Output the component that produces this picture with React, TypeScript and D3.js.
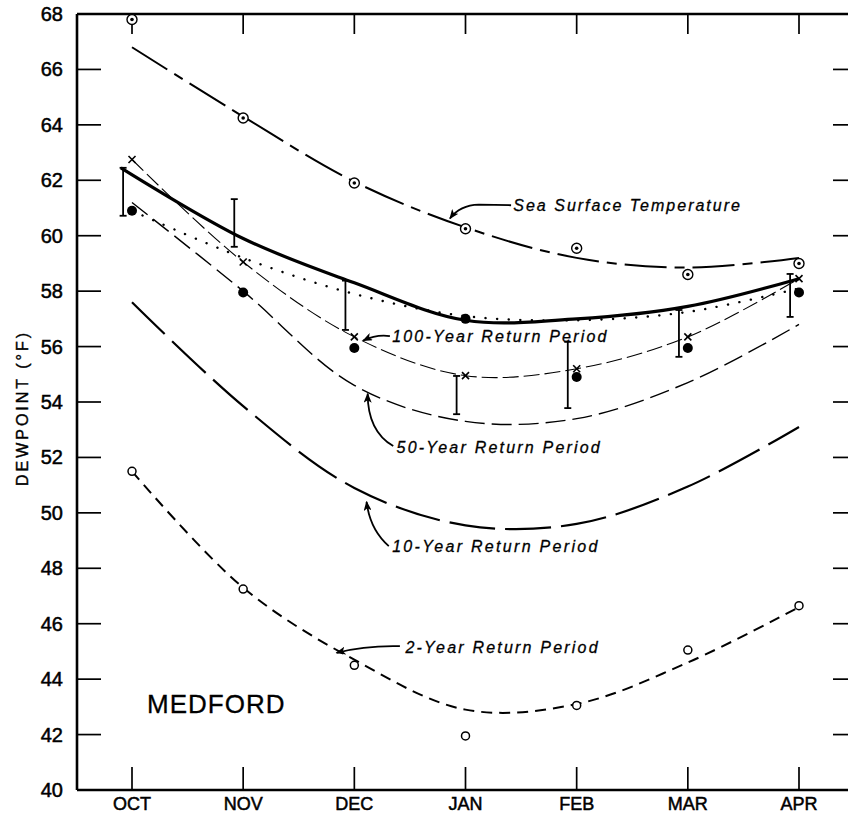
import React from "react";
import * as d3 from "d3";

// ---------- data ----------
const months = ["OCT", "NOV", "DEC", "JAN", "FEB", "MAR", "APR"];
const yTicks = [40, 42, 44, 46, 48, 50, 52, 54, 56, 58, 60, 62, 64, 66, 68];

// Sea surface temperature (plotted points and fitted curve)
const sstPoints = [67.8, 64.25, 61.9, 60.25, 59.55, 58.6, 59.0];
const sstCurve = [66.8, 64.3, 61.95, 60.3, 59.2, 58.85, 59.2];

// Heavy solid curve (month index positions and values)
const solidIdx = [-0.1, 1, 2, 3, 4, 5, 6];
const solidCurve = [62.45, 59.9, 58.3, 56.95, 57.0, 57.45, 58.45];

// Dotted curve
const dottedCurve = [60.9, 59.2, 57.9, 57.1, 56.95, 57.25, 58.1];

// 100-year return period (x marks, joined by thin dashed curve)
const rp100Marks = [62.75, 59.05, 56.35, 54.95, 55.2, 56.35, 58.45];

// filled dots
const filledDots = [60.9, 57.95, 55.95, 57.0, 54.9, 55.95, 57.95];

// range bars
const barLow = [60.72, 59.6, 56.6, 53.56, 53.78, 55.63, 57.07];
const barHigh = [62.45, 61.32, 58.38, 54.94, 56.17, 57.32, 58.62];

// return period curves
const rp50Curve = [61.2, 58.0, 54.6, 53.3, 53.4, 54.7, 56.8];
const rp10Curve = [57.6, 53.85, 50.9, 49.55, 49.6, 50.95, 53.1];
const rp2Curve = [51.5, 47.3, 44.7, 42.9, 43.1, 44.6, 46.6];
const rp2Points = [51.5, 47.25, 44.5, 41.95, 43.05, 45.05, 46.65];

// annotation labels
const labels = [
  "Sea Surface Temperature",
  "100-Year Return Period",
  "50-Year Return Period",
  "10-Year Return Period",
  "2-Year Return Period",
];

// ---------- layout ----------
const W = 848;
const H = 821;
const L = 77;
const R = 857;
const T = 14;
const B = 790;
const BAR_SHIFT = -0.08;

const x = d3.scaleLinear().domain([0, 6]).range([132, 799]);
const y = d3.scaleLinear().domain([40, 68]).range([B, T]);

const curve = d3.curveCatmullRom.alpha(0.5);
const lineByIndex = d3
  .line<number>()
  .x((_, i) => x(i))
  .y((d) => y(d))
  .curve(curve);
const lineXY = d3
  .line<[number, number]>()
  .x((d) => x(d[0]))
  .y((d) => y(d[1]))
  .curve(curve);

const FONT = "'Liberation Sans', Arial, Helvetica, sans-serif";

// leader arrow: tail, control, tip given in (month index, value)
function leader(pts: [number, number][]) {
  const p = pts.map(([i, v]) => [x(i), y(v)]);
  if (p.length === 3) {
    return `M${p[0][0]},${p[0][1]} Q${p[1][0]},${p[1][1]} ${p[2][0]},${p[2][1]}`;
  }
  return `M${p[0][0]},${p[0][1]} L${p[1][0]},${p[1][1]} Q${p[2][0]},${p[2][1]} ${p[3][0]},${p[3][1]}`;
}

const annotations: { text: string; at: [number, number]; arrow: [number, number][]; spacing: number }[] = [
  { text: labels[0], at: [3.43, 60.89], arrow: [[3.41, 61.1], [3.12, 61.12], [2.95, 61.1], [2.86, 60.62]], spacing: 2.0 },
  { text: labels[1], at: [2.34, 56.16], arrow: [[2.32, 56.38], [2.2, 56.45], [2.08, 56.22]], spacing: 2.2 },
  { text: labels[2], at: [2.38, 52.16], arrow: [[2.35, 52.41], [2.12, 52.95], [2.12, 54.3]], spacing: 2.2 },
  { text: labels[3], at: [2.34, 48.6], arrow: [[2.31, 48.8], [2.14, 49.4], [2.11, 50.4]], spacing: 2.3 },
  { text: labels[4], at: [2.46, 44.94], arrow: [[2.41, 45.19], [2.1, 45.22], [1.84, 44.95]], spacing: 2.2 },
];

export default function App() {
  const sidesTicks = yTicks.filter((t) => t > 40 && t < 68);
  return (
    <svg
      width={W}
      height={H}
      viewBox={`0 0 ${W} ${H}`}
      style={{ position: "absolute", left: 0, top: 0, background: "#fff" }}
    >
      <defs>
        <marker id="arrow" viewBox="0 0 10 8" refX="9" refY="4" markerWidth="10" markerHeight="8" orient="auto" markerUnits="userSpaceOnUse">
          <path d="M0,0 L10,4 L0,8 L2.5,4 z" fill="#000" />
        </marker>
      </defs>
      <rect x={0} y={0} width={W} height={H} fill="#fff" />

      {/* frame */}
      <g stroke="#000" fill="none">
        <line x1={L} y1={T} x2={L} y2={B} strokeWidth={2.6} />
        <line x1={L} y1={B} x2={R} y2={B} strokeWidth={2.4} />
        <line x1={L} y1={T} x2={R} y2={T} strokeWidth={2.4} />
        <line x1={R} y1={T} x2={R} y2={B} strokeWidth={2.4} />
      </g>

      {/* ticks */}
      <g stroke="#000" strokeWidth={1.7}>
        {sidesTicks.map((t) => (
          <g key={"yt" + t}>
            <line x1={L} x2={L + 24} y1={y(t)} y2={y(t)} />
            <line x1={R - 24} x2={R} y1={y(t)} y2={y(t)} />
          </g>
        ))}
        {months.map((m, i) => (
          <g key={"xt" + m}>
            <line x1={x(i)} x2={x(i)} y1={B} y2={B - 23} />
            <line x1={x(i)} x2={x(i)} y1={T} y2={T + 20} />
          </g>
        ))}
      </g>

      {/* tick labels */}
      <g fontFamily={FONT} fontSize={20} fill="#000" stroke="#000" strokeWidth={0.5}>
        {yTicks.map((t) => (
          <text key={"yl" + t} x={63} y={y(t)} textAnchor="end" dominantBaseline="central">
            {t}
          </text>
        ))}
        {months.map((m, i) => (
          <text key={"xl" + m} x={x(i)} y={810} textAnchor="middle" fontSize={18}>
            {m}
          </text>
        ))}
      </g>

      {/* y axis title */}
      <text
        transform={`translate(28,${(T + B) / 2 + 6}) rotate(-90)`}
        textAnchor="middle"
        fontFamily={FONT}
        fontSize={16}
        letterSpacing={3}
        stroke="#000"
        strokeWidth={0.4}
      >
        DEWPOINT (°F)
      </text>

      {/* station name */}
      <text x={147} y={713} fontFamily={FONT} fontSize={26} letterSpacing={1} stroke="#000" strokeWidth={0.3}>
        MEDFORD
      </text>

      {/* curves */}
      <g fill="none" stroke="#000" strokeLinecap="butt">
        <path d={lineByIndex(sstCurve) || ""} strokeWidth={2} strokeDasharray="42,8,10,8" />
        <path d={lineByIndex(rp2Curve) || ""} strokeWidth={2} strokeDasharray="11,7" />
        <path d={lineByIndex(rp10Curve) || ""} strokeWidth={2.2} strokeDasharray="46,10" />
        <path d={lineByIndex(rp50Curve) || ""} strokeWidth={1.4} strokeDasharray="20,7" />
        <path d={lineByIndex(rp100Marks) || ""} strokeWidth={1.1} strokeDasharray="16,5" />
        <path d={lineByIndex(dottedCurve) || ""} strokeWidth={2.4} strokeDasharray="0.1,11.5" strokeLinecap="round" />
        <path
          d={lineXY(solidIdx.map((i, k) => [i, solidCurve[k]] as [number, number])) || ""}
          strokeWidth={3.2}
        />
      </g>

      {/* range bars */}
      <g stroke="#000" strokeWidth={1.8}>
        {barLow.map((lo, i) => {
          const bx = x(i + BAR_SHIFT);
          return (
            <g key={"bar" + i}>
              <line x1={bx} x2={bx} y1={y(lo)} y2={y(barHigh[i])} />
              <line x1={bx - 3.5} x2={bx + 3.5} y1={y(lo)} y2={y(lo)} />
              <line x1={bx - 3.5} x2={bx + 3.5} y1={y(barHigh[i])} y2={y(barHigh[i])} />
            </g>
          );
        })}
      </g>

      {/* markers */}
      <g>
        {sstPoints.map((v, i) => (
          <g key={"sst" + i}>
            <circle cx={x(i)} cy={y(v)} r={5} fill="#fff" stroke="#000" strokeWidth={1.4} />
            <circle cx={x(i)} cy={y(v)} r={1.8} fill="#000" />
          </g>
        ))}
        {rp2Points.map((v, i) => (
          <circle key={"o" + i} cx={x(i)} cy={y(v)} r={4} fill="#fff" stroke="#000" strokeWidth={1.5} />
        ))}
        {filledDots.map((v, i) => (
          <circle key={"f" + i} cx={x(i)} cy={y(v)} r={5} fill="#000" />
        ))}
        {rp100Marks.map((v, i) => {
          const cx = x(i);
          const cy = y(v);
          const s = 3.5;
          return (
            <g key={"x" + i} stroke="#000" strokeWidth={1.6}>
              <line x1={cx - s} y1={cy - s} x2={cx + s} y2={cy + s} />
              <line x1={cx - s} y1={cy + s} x2={cx + s} y2={cy - s} />
            </g>
          );
        })}
      </g>

      {/* annotations */}
      <g fontFamily={FONT} fontStyle="italic" fontSize={16} fill="#000">
        {annotations.map((a) => (
          <g key={a.text}>
            <path d={leader(a.arrow)} fill="none" stroke="#000" strokeWidth={1.8} markerEnd="url(#arrow)" />
            <text x={x(a.at[0])} y={y(a.at[1])} letterSpacing={a.spacing} stroke="#000" strokeWidth={0.3}>
              {a.text}
            </text>
          </g>
        ))}
      </g>
    </svg>
  );
}
